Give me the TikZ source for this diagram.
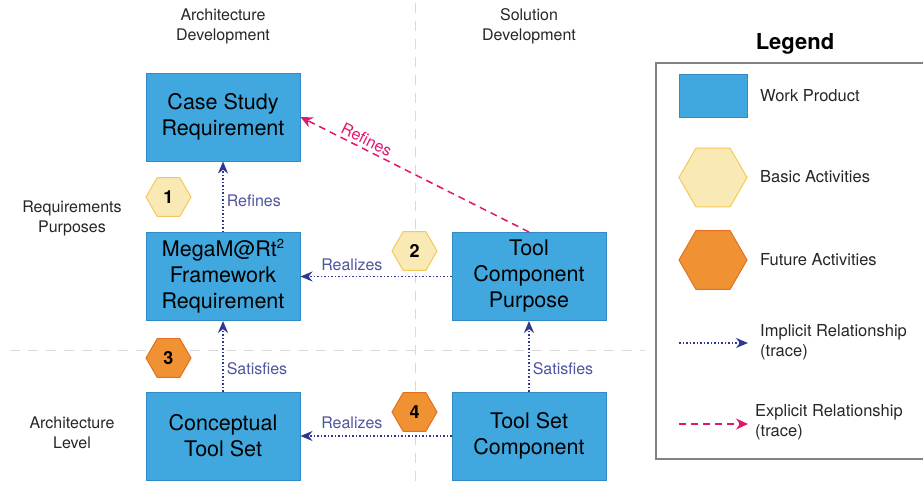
\documentclass[tikz,border=0pt]{standalone}
\usepackage{fontspec}
\setmainfont{TeX Gyre Heros}
\usetikzlibrary{shapes.geometric,arrows.meta}
\definecolor{wpblue}{RGB}{64,168,222}
\definecolor{wpedge}{RGB}{50,138,198}
\definecolor{basicfill}{RGB}{249,234,181}
\definecolor{basicedge}{RGB}{245,200,90}
\definecolor{futfill}{RGB}{240,146,52}
\definecolor{futedge}{RGB}{226,112,30}
\definecolor{trace}{RGB}{46,56,145}
\definecolor{tracelbl}{RGB}{78,84,160}
\definecolor{expl}{RGB}{226,20,110}
\definecolor{sepgray}{RGB}{218,218,218}
\definecolor{legedge}{RGB}{130,130,130}
\begin{document}
\begin{tikzpicture}[x=1pt,y=-1pt,
  wp/.style={draw=wpedge, line width=1pt, fill=wpblue, minimum width=154pt, minimum height=88pt, inner sep=0pt, align=center, font=\fontsize{21.5}{26}\selectfont},
  hexb/.style={regular polygon, regular polygon sides=6, minimum size=45pt, inner sep=0pt, draw=basicedge, fill=basicfill, line width=1pt, font=\fontsize{18}{20}\selectfont\bfseries},
  hexf/.style={hexb, draw=futedge, fill=futfill},
  implicit/.style={draw=trace, dotted, line width=1.5pt, -{Stealth[length=12pt,width=10pt]}},
  explicit/.style={draw=expl, dash pattern=on 7pt off 5pt, line width=1.5pt, -{Stealth[length=12pt,width=11pt]}},
  lbl/.style={text=tracelbl, font=\fontsize{16}{18}\selectfont, inner sep=3pt},
  hdr/.style={align=center, font=\fontsize{16}{20}\selectfont, text=black!85},
  legtxt/.style={anchor=west, align=left, font=\fontsize{16.5}{20}\selectfont, text=black!85, inner sep=0pt},
  sepline/.style={draw=sepgray, line width=1pt, dash pattern=on 10pt off 8pt}
]
\useasboundingbox (0,0) rectangle (923,487);
% separators
\draw[sepline] (415,3) -- (415,487);
\draw[sepline] (10,350) -- (645,350);
% headers
\node[hdr] (hA) at (223,26) {Architecture\\Development};
\node[hdr] (hS) at (529,26) {Solution\\Development};
\node[hdr] (rR) at (72,218) {Requirements\\Purposes};
\node[hdr] (rA) at (72,433) {Architecture\\Level};
% work products
\node[wp] (case) at (223,117) {Case Study\\Requirement};
\node[wp] (mega) at (223,276.5) {MegaM@Rt\raisebox{0.75ex}{\fontsize{13}{13}\selectfont 2}\\Framework\\Requirement};
\node[wp] (cts) at (223,436) {Conceptual\\Tool Set};
\node[wp] (tcp) at (529,276.5) {Tool\\Component\\Purpose};
\node[wp] (tsc) at (529,436) {Tool Set\\Component};
% activities
\node[hexb] (h1) at (168.5,197) {1};
\node[hexb] (h2) at (414.5,251) {2};
\node[hexf] (h3) at (168.5,358) {3};
\node[hexf] (h4) at (414.5,412) {4};
% relations
\draw[implicit] (mega.north) -- node[lbl, anchor=west, pos=0.45] {Refines} (case.south);
\draw[implicit] (cts.north) -- node[lbl, anchor=west, pos=0.33] {Satisfies} (mega.south);
\draw[implicit] (tsc.north) -- node[lbl, anchor=west, pos=0.33] {Satisfies} (tcp.south);
\draw[implicit] (tcp.west) -- node[lbl, anchor=south, pos=0.66, yshift=2pt] {Realizes} (mega.east);
\draw[implicit] (tsc.west) -- node[lbl, anchor=south, pos=0.66, yshift=4pt] {Realizes} (cts.east);
\draw[explicit] (tcp.north) -- node[lbl, text=expl, sloped, anchor=south, pos=0.73] {Refines} (case.east);
% legend
\node[font=\fontsize{22}{24}\selectfont\bfseries] (legtitle) at (795,44) {Legend};
\draw[legedge, line width=1.5pt] (924,63) -- (656,63) -- (656,459) -- (924,459);
\node[wp, minimum width=68pt, minimum height=43pt] (lwp) at (713,95.5) {};
\node[legtxt] (lwpt) at (760,96) {Work Product};
\node[hexb, minimum size=68pt] (lb) at (713,177.5) {};
\node[legtxt] (lbt) at (760,177) {Basic Activities};
\node[hexf, minimum size=68pt] (lf) at (713,260) {};
\node[legtxt] (lft) at (760,260) {Future Activities};
\coordinate (li1) at (679,343);
\coordinate (li2) at (748,343);
\draw[implicit] (li1) -- (li2);
\node[legtxt] (lit) at (760,342) {Implicit Relationship\\(trace)};
\coordinate (le1) at (679,424);
\coordinate (le2) at (748,424);
\draw[explicit] (le1) -- (le2);
\node[legtxt] (let) at (755,422) {Explicit Relationship\\(trace)};
\end{tikzpicture}
\end{document}
